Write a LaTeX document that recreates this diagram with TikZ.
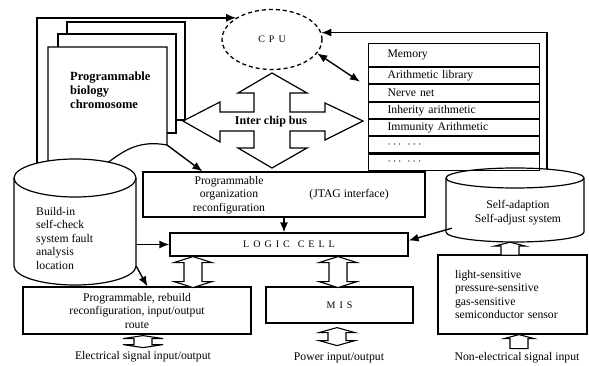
\documentclass[tikz,border=0pt]{standalone}
\usepackage{fontspec}
\setmainfont{Liberation Serif}
\usepackage{tikz}
\usetikzlibrary{arrows.meta, positioning, calc, shapes.geometric}
\newcommand{\fsz}{\fontsize{11.7}{13.5}\selectfont}
\newcommand{\lgap}{\hspace{4pt}}
% hollow block arrows: #1 top tip, #2 length, #3 head length, #4 head half width
\newcommand{\dblarrow}[4]{\draw[hollow] #1 -- ++(#4,#3) -- ++(9-#4,0) -- ++(0,#2-2*#3) -- ++(#4-9,0) -- ++(-#4,#3) -- ++(-#4,-#3) -- ++(#4-9,0) -- ++(0,2*#3-#2) -- ++(9-#4,0) -- cycle;}
\newcommand{\uparr}[4]{\draw[hollow] #1 -- ++(#4,#3) -- ++(9-#4,0) -- ++(0,#2-#3) -- ++(-18,0) -- ++(0,#3-#2) -- ++(9-#4,0) -- cycle;}

\begin{document}
\begin{tikzpicture}[x=1pt, y=1pt, yscale=-1,
    every node/.style={font=\fsz, inner sep=0pt},
    box/.style={draw, line width=1.2pt, fill=white},
    memrow/.style={draw, line width=1.1pt, text width=133pt, inner xsep=19pt, inner ysep=0pt, minimum height=16.17pt, align=left},
    cyl/.style={draw, line width=1.2pt, fill=white},
    page/.style={draw, line width=1.2pt, fill=white},
    hollow/.style={draw, line width=1.1pt, fill=white},
    arr/.style={line width=1.4pt, -{Latex[length=10pt, width=8pt]}},
    arrs/.style={line width=1.4pt, {Latex[length=10pt, width=8pt]}-{Latex[length=10pt, width=8pt]}}]
\useasboundingbox (0,0) rectangle (589,366);

% x positions of the vertical connectors
\coordinate (c0) at (37,0);
\coordinate (c1) at (193,0);
\coordinate (c2) at (338,0);
\coordinate (c3) at (143,0);
\coordinate (c4) at (337,0);
\coordinate (c5) at (510,0);
\coordinate (c6) at (519,0);
\coordinate (c7) at (547,0);

% cylinder bodies and CPU
\node[minimum width=122pt, minimum height=88pt] (bist) at (75,222) {};
\node[minimum width=138pt, minimum height=54pt] (adapt) at (515,205) {};
\node[draw, ellipse, dash pattern=on 4pt off 3pt, line width=1.3pt, minimum width=100pt, minimum height=60pt, font=\fontsize{10}{12}\selectfont] (cpu) at (272,39.5) {C\lgap P\lgap U};

% feedback lines to CPU
\draw[arr] (bist.north -| c0) |- (cpu.north west);
\draw[arr] (adapt.north -| c7) |- (cpu.8);

% chromosome pages
\draw[page] (67,22) rectangle (185,120);
\draw[page] (58,34) rectangle (176,133);
\draw[page] (48,47) -- (167,47) -- (167,145) .. controls (140,140) and (125,150) .. (110,161) .. controls (95,172) and (70,180) .. (48,180) -- cycle;
\coordinate (pgc) at (167,145);
\node[font=\fontsize{12.5}{14}\selectfont\bfseries, align=left, anchor=west] (chrom) at (70,90) {Programmable\\biology\\chromosome};

% cylinders
\draw[cyl] (14,178) -- (14,266) arc[start angle=180, end angle=0, x radius=61, y radius=19] -- (136,178) arc[start angle=0, end angle=-180, x radius=61, y radius=19] -- cycle;
\draw[line width=1.2pt] (14,178) arc[start angle=180, end angle=0, x radius=61, y radius=19];
\node[align=left, anchor=west] (bisttxt) at (36,238) {Build-in\\self-check\\system fault\\analysis\\location};

\draw[cyl] (446,178) -- (446,232) arc[start angle=180, end angle=0, x radius=69, y radius=10] -- (584,178) arc[start angle=0, end angle=-180, x radius=69, y radius=10] -- cycle;
\draw[line width=1.2pt] (446,178) arc[start angle=180, end angle=0, x radius=69, y radius=10];
\node[align=center] (adapttxt) at (518,212.5) {Self-adaption\\Self-adjust system};

% memory table
\node[memrow, minimum height=23pt, anchor=north west] (mem) at (368,43) {Memory};
\node[memrow, below=0pt of mem] (arith) {Arithmetic library};
\node[memrow, below=0pt of arith] (nerve) {Nerve net};
\node[memrow, below=0pt of nerve] (inher) {Inherity arithmetic};
\node[memrow, below=0pt of inher] (immun) {Immunity Arithmetic};
\node[memrow, below=0pt of immun] (etc1) {$\cdots$\enspace$\cdots$};
\node[memrow, below=0pt of etc1] (etc2) {$\cdots$\enspace$\cdots$};
\draw[arrs] (cpu.-17) -- ($(arith.west)+(-8,6)$);

% inter chip bus
\draw[hollow, line width=1.2pt] (272,73) -- (307,93) -- (290,93) -- (290,112) -- (325,112) -- (325,103) -- (363,121) -- (325,140) -- (325,131) -- (290,131) -- (290,148) -- (307,148) -- (272,168) -- (238,148) -- (254,148) -- (254,131) -- (220,131) -- (220,142) -- (183,121) -- (220,102) -- (220,112) -- (254,112) -- (254,93) -- (238,93) -- cycle;
\node[font=\fontsize{12}{14}\selectfont\bfseries] (bus) at (271,122) {Inter chip bus};

% reconfiguration and logic cell
\node[box, minimum width=282pt, minimum height=45pt] (org) at (284,194.5) {};
\node[align=center] (orgtxt) at (229,195) {Programmable\\organization\\reconfiguration};
\node (jtag) at (349,195) {(JTAG interface)};
\draw[arr] (pgc) -- ($(org.north west)+(60,0)$);

\node[box, minimum width=238pt, minimum height=23pt, font=\fontsize{10}{12}\selectfont] (logic) at (289,244.5) {L\lgap O\lgap G\lgap I\lgap C\hspace{8pt}C\lgap E\lgap L\lgap L};
\draw[arr] (org.south) -- (org.south |- logic.north);
\draw[arr] (bist.east |- logic.west) -- (logic.west);
\draw[arr] ($(adapt.south west)+(6,-4)$) -- ($(logic.east)+(0,-4)$);

% lower row
\node[box, minimum width=228pt, minimum height=47pt, align=center] (route) at (137,310.5) {Programmable, rebuild\\reconfiguration, input/output\\route};
\draw[arr] (bist.south east) -- ($(route.north west)+(125,0)$);
\node[box, minimum width=147pt, minimum height=36pt, font=\fontsize{10}{12}\selectfont] (mis) at (339.5,305) {M\lgap I\lgap S};
\node[box, minimum width=149pt, minimum height=79pt, text width=115pt, inner xsep=17pt, align=left] (sensor) at (512.5,294.5) {light-sensitive\\pressure-sensitive\\gas-sensitive\\semiconductor sensor};

\dblarrow{(logic.south -| c1)}{31}{6}{19}
\dblarrow{(logic.south -| c2)}{31}{6}{19}
\dblarrow{($(route.south -| c3)+(0,1)$)}{12}{3}{20}
\dblarrow{($(mis.south -| c4)+(0,4)$)}{18}{5}{18}
\uparr{(sensor.south -| c6)}{14}{4}{15}
\uparr{($(adapt.south -| c5)+(0,10)$)}{13}{4}{16}

\node (elec) at (143,357) {Electrical signal input/output};
\node (power) at (339,358) {Power input/output};
\node (nonel) at (517,358) {Non-electrical signal input};
\end{tikzpicture}
\end{document}
